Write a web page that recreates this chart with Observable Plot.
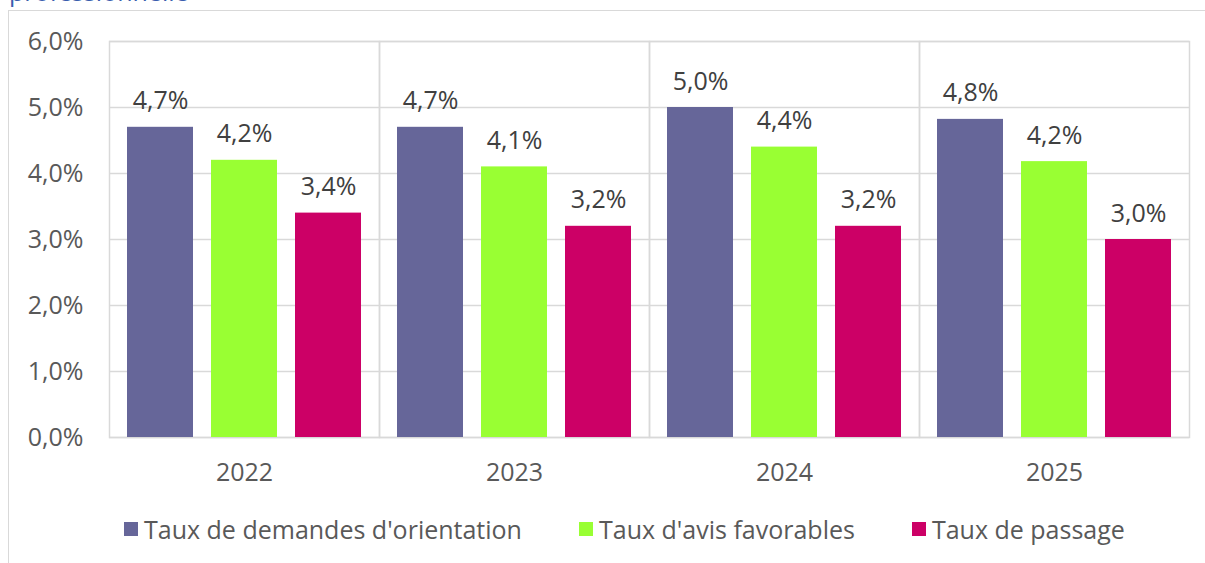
<!DOCTYPE html>
<html><head><meta charset="utf-8">
<script src="https://cdn.jsdelivr.net/npm/d3@7"></script>
<script src="https://cdn.jsdelivr.net/npm/@observablehq/plot@0.6"></script>
<style>
body{margin:0;background:#fff;font-family:"Open Sans",sans-serif}
#wrap{position:relative;width:1205px;height:563px;overflow:hidden;background:#fff}
#title{position:absolute;left:9px;top:-24px;font-size:25px;color:#3a5dae;white-space:nowrap;line-height:30px}
#box{position:absolute;left:8px;top:10px;width:1300px;height:600px;border-left:1.5px solid #d9d9d9;border-top:1.5px solid #d9d9d9}
#chart{position:absolute;left:0;top:0}
#legend{position:absolute;left:124px;top:512px;display:flex;align-items:center;font-size:25px;color:#595959;white-space:nowrap;line-height:34px}
.item{display:flex;align-items:center;margin-right:57px}
.sw{width:14px;height:14px;margin-right:6px}
</style></head><body>
<div id="wrap">
<div id="title">professionnelle</div>
<div id="box"></div>
<div id="chart"></div>
<div id="legend"></div>
</div>
<script>
const years = ["2022", "2023", "2024", "2025"];
const series = ["Taux de demandes d'orientation", "Taux d'avis favorables", "Taux de passage"];
const demandes = [4.7, 4.7, 5.0, 4.82];
const avis = [4.2, 4.1, 4.4, 4.18];
const passage = [3.4, 3.2, 3.2, 3.0];
const colors = ["#666699", "#99ff33", "#cc0066"];
const yTicks = [0, 1, 2, 3, 4, 5, 6];

const data = years.flatMap((y, i) => [demandes, avis, passage].map((s, j) => ({year: y, series: series[j], value: s[i]})));
const fmt = v => v.toFixed(1).replace(".", ",") + "%";

const chart = Plot.plot({
  width: 1205, height: 500,
  marginLeft: 107, marginRight: 15, marginTop: 41, marginBottom: 63,
  style: {fontFamily: "'Open Sans', sans-serif", fontSize: "25px", color: "#595959", background: "transparent"},
  fx: {domain: years, padding: 0, label: null, axis: null},
  x: {domain: series, paddingInner: 18 / 85, paddingOuter: 0.2, axis: null},
  y: {domain: [0, 6], axis: null, label: null},
  color: {domain: series, range: colors},
  marks: [
    Plot.gridY(yTicks, {stroke: "#d9d9d9", strokeOpacity: 1, strokeWidth: 1.5}),
    Plot.frame({stroke: "#d9d9d9", strokeWidth: 1.5}),
    Plot.barY(data, {fx: "year", x: "series", y: "value", fill: "series"}),
    Plot.text(data, {fx: "year", x: "series", y: "value", text: d => fmt(d.value), dy: -26, fill: "#404040", fontSize: 25}),
    Plot.axisY(yTicks, {tickSize: 0, tickPadding: 26, tickFormat: fmt, fontSize: 25, color: "#595959", label: null}),
    Plot.axisFx({anchor: "bottom", tickSize: 0, tickPadding: 26, fontSize: 25, label: null, color: "#595959"})
  ]
});
document.getElementById("chart").appendChild(chart);

const legend = document.getElementById("legend");
series.forEach((s, i) => {
  const it = document.createElement("div");
  it.className = "item";
  const sw = document.createElement("div");
  sw.className = "sw";
  sw.style.background = colors[i];
  const t = document.createElement("span");
  t.textContent = s;
  it.appendChild(sw); it.appendChild(t);
  legend.appendChild(it);
});
</script>
</body></html>
